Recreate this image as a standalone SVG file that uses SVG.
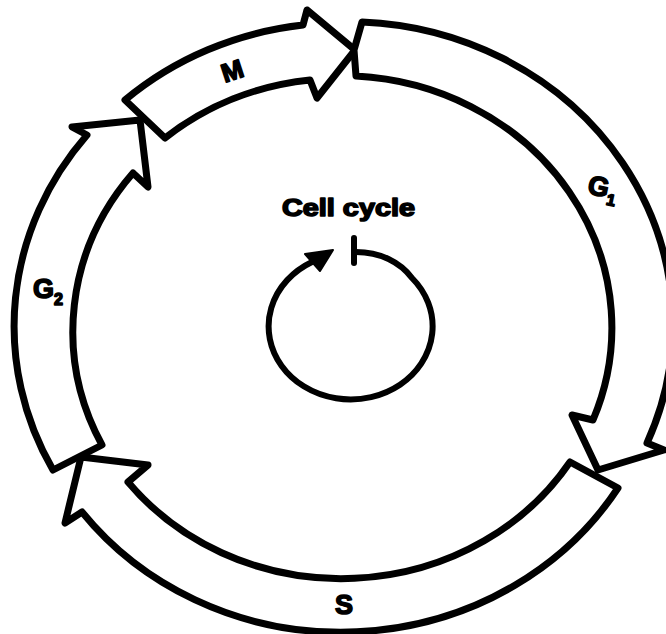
<svg xmlns="http://www.w3.org/2000/svg" width="666" height="634" viewBox="0 0 666 634">
<style>
.seg{fill:#fff;stroke:#000;stroke-width:7;stroke-linejoin:round;stroke-linecap:round}
.lbl{font-family:"Liberation Sans",Arial,sans-serif;font-weight:bold;fill:#000;stroke:#000;stroke-width:1.6;stroke-linejoin:round}
.sub{font-size:16px}
.loop{fill:none;stroke:#000;stroke-width:6;stroke-linecap:round}
</style>
<rect width="666" height="634" fill="#fff"/>
<g id="node-M">
<path class="seg" d="M125,100 A325 303 0 0 1 303,25 L307,10 L355,50 L317,98 L310,80 A271 252 0 0 0 165,138 Z"/>
<text class="lbl" x="232" y="80" font-size="26" text-anchor="middle" transform="rotate(-18 232 70)">M</text>
</g>
<g id="node-G1">
<path class="seg" d="M362,22 L354,50 L356,76 A271 252 0 0 1 593,420 L572,415 L598,470 L664,450 L647,443 A325 303 0 0 0 362,22 Z"/>
<text class="lbl" x="588" y="197" font-size="27" transform="rotate(12 605 188)">G<tspan class="sub" dy="7">1</tspan></text>
</g>
<g id="node-S">
<path class="seg" d="M570,462 L618,488 A325 303 0 0 1 82,512 L65,523 L81,457 L148,465 L128,482 A271 252 0 0 0 570,462 Z"/>
<text class="lbl" x="344" y="614" font-size="27" text-anchor="middle">S</text>
</g>
<g id="node-G2">
<path class="seg" d="M53,470 L102,445 A271 252 0 0 1 133,173 L148,187 L140,120 L72,127 L87,135 A325 303 0 0 0 53,470 Z"/>
<text class="lbl" x="33" y="298" font-size="27">G<tspan class="sub" dy="7">2</tspan></text>
</g>
<g id="node-cellcycle">
<text class="lbl" x="282" y="216" font-size="24" textLength="133" lengthAdjust="spacingAndGlyphs">Cell cycle</text>
</g>
<g id="connectors">
<line class="loop" x1="354" y1="238" x2="354" y2="263"/>
<path class="loop" d="M356,252 C380,252 400,262 412,278 A82 73 0 1 1 312,262"/>
<polygon points="333,250 305,254 320,271" fill="#000" stroke="#000" stroke-width="2" stroke-linejoin="round"/>
</g>
</svg>
